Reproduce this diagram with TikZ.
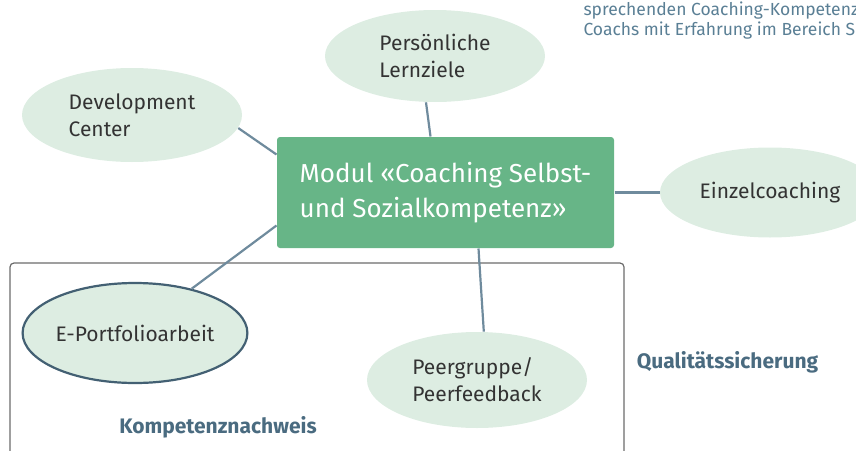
\documentclass[tikz,border=0pt]{standalone}
\usepackage{fontspec}
\setmainfont{Fira Sans}
\usetikzlibrary{shapes.geometric}

\definecolor{modulgreen}{HTML}{67B587}
\definecolor{bubblegreen}{HTML}{DDEDE2}
\definecolor{linkblue}{HTML}{6F8B9D}
\definecolor{headblue}{HTML}{4A6B80}
\definecolor{noteblue}{HTML}{5A7F95}
\definecolor{textgrey}{HTML}{333333}

\tikzset{
every picture/.style={
line width=1pt
}}

\begin{document}
\begin{tikzpicture}[x=1pt, y=-1pt,
bubble/.style = {ellipse, fill=bubblegreen, text=textgrey, align=left, inner sep=0pt,
  minimum width=220pt, minimum height=94pt, font=\fontsize{21}{27}\selectfont},
modul/.style = {rectangle, fill=modulgreen, rounded corners=3pt, text=white, align=left,
  minimum width=337pt, minimum height=111pt, font=\fontsize{26}{35}\selectfont},
link/.style = {draw=linkblue, line width=2.2pt},
heading/.style = {text=headblue, font=\fontsize{21}{26}\selectfont\bfseries},
frame/.style = {draw=black!58, line width=1.2pt, rounded corners=4pt}]

  \useasboundingbox (0,0) rectangle (856,450);
  \clip (0,0) rectangle (856,450);

  \node[anchor=base west, text=noteblue, align=left, inner sep=0pt,
    font=\fontsize{17.5}{20}\selectfont] (note) at (583,35)
    {sprechenden Coaching-Kompetenz\\Coachs mit Erfahrung im Bereich S};

  \draw[frame] (10,263) rectangle (624,480);

  \node[modul] (modul) at (445.5,192.5) {Modul «Coaching Selbst-\\und Sozialkompetenz»};

  \node[bubble] (dev_center) at (132,115) {Development\\Center};
  \node[bubble, minimum height=92pt] (lernziele) at (435,56) {Persönliche\\Lernziele};
  \node[bubble, minimum height=90pt] (einzel) at (770,192.5) {Einzelcoaching};
  \node[bubble, draw=headblue!90!black, line width=2.2pt, minimum width=218pt,
    minimum height=100pt] (portfolio) at (135,333) {E-Portfolioarbeit};
  \node[bubble, minimum height=96pt] (peer) at (477,380) {Peergruppe/\\Peerfeedback};

  \node[heading, anchor=base] (nachweis) at (218,433) {Kompetenznachweis};
  \node[heading, anchor=base west] (qualitaet) at (633,368) {Qualitätssicherung};

  \draw[link] (dev_center.-7) -- ([yshift=-18pt]modul.north west);
  \draw[link] (lernziele.-101) -- ([xshift=-15pt]modul.north);
  \draw[link] (modul.east) -- (einzel.west);
  \draw[link] ([yshift=23pt]modul.south west) -- (portfolio.38);
  \draw[link] ([xshift=33pt]modul.south) -- (peer.82);

\end{tikzpicture}
\end{document}
